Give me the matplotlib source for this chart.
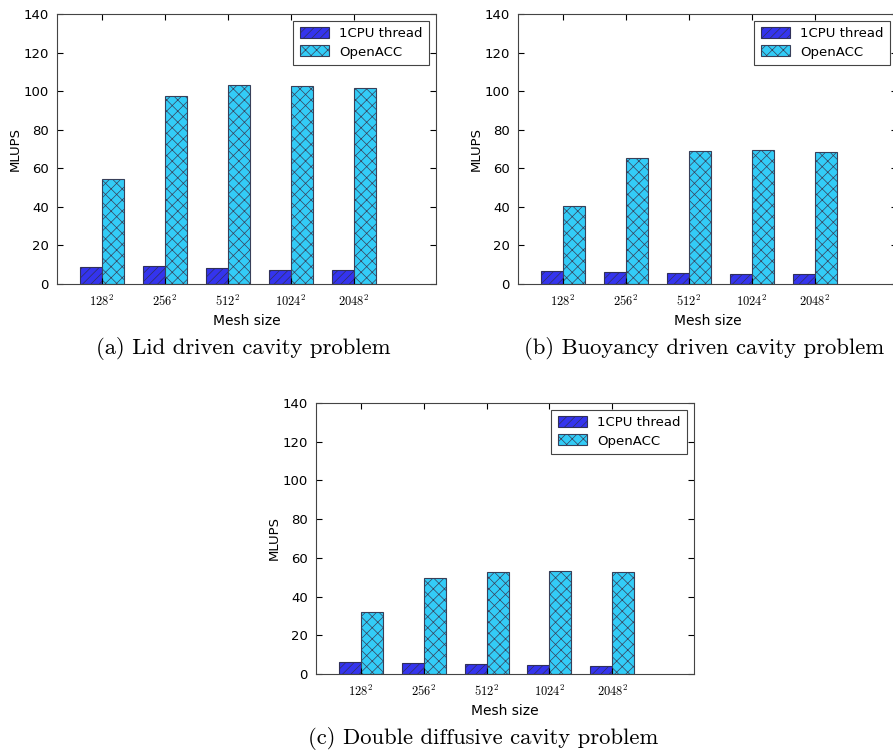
import matplotlib
matplotlib.use("Agg")
import matplotlib.pyplot as plt
import numpy as np

plt.rcParams['mathtext.fontset'] = 'cm'
plt.rcParams['hatch.linewidth'] = 0.5

mesh_labels = [r'$128^2$', r'$256^2$', r'$512^2$', r'$1024^2$', r'$2048^2$']
series_names = ['1CPU thread', 'OpenACC']

cpu_lid = [9.0, 9.1, 8.1, 7.4, 7.4]
acc_lid = [54.4, 97.7, 103.1, 102.7, 101.5]
cpu_buoy = [6.9, 6.4, 5.9, 5.4, 5.4]
acc_buoy = [40.2, 65.1, 68.9, 69.6, 68.5]
cpu_dd = [6.2, 5.7, 5.2, 4.5, 4.3]
acc_dd = [32.2, 49.8, 52.7, 53.4, 52.5]

captions = ['(a) Lid driven cavity problem',
            '(b) Buoyancy driven cavity problem',
            '(c) Double diffusive cavity problem']

W, H = 893, 755
fig = plt.figure(figsize=(W / 100, H / 100), dpi=100)

def px_axes(left, top, right, bottom):
    return fig.add_axes([left / W, 1 - bottom / H, (right - left) / W, (bottom - top) / H])

panels = [
    (px_axes(57, 14, 436, 284), cpu_lid, acc_lid, captions[0], (243, 348)),
    (px_axes(518, 14, 897, 284), cpu_buoy, acc_buoy, captions[1], (704, 348)),
    (px_axes(316, 403, 694, 674), cpu_dd, acc_dd, captions[2], (483, 738)),
]

width = 0.35
ind = np.arange(len(mesh_labels))
for ax, cpu, acc, cap, (cx, cy) in panels:
    ax.bar(ind, cpu, width, align='edge', color='#3434ee', edgecolor='#30305a',
           hatch='////', linewidth=0.8, label=series_names[0])
    ax.bar(ind + width, acc, width, align='edge', color='#33ccf7', edgecolor='#38405a',
           hatch='xxx', linewidth=0.8, label=series_names[1])
    ax.set_xlim(-0.365, 5.65)
    ax.set_ylim(0, 140)
    ax.set_yticks(np.arange(0, 141, 20))
    ax.set_xticks(ind + width)
    ax.set_xticklabels(mesh_labels, fontsize=9)
    ax.tick_params(axis='y', labelsize=9.5, direction='in', right=True, length=4, pad=6)
    ax.tick_params(axis='x', direction='in', top=True, length=4, pad=7)
    for s in ax.spines.values():
        s.set_color('#444444')
        s.set_linewidth(0.8)
    ax.set_ylabel('MLUPS', fontsize=9.5, labelpad=1)
    ax.set_xlabel('Mesh size', fontsize=10, labelpad=4)
    leg = ax.legend(loc='upper right', fontsize=9.5, fancybox=False, framealpha=1,
                    edgecolor='#444444', borderaxespad=0.5, handlelength=2.2,
                    handleheight=0.9, borderpad=0.5, labelspacing=0.4)
    leg.get_frame().set_linewidth(0.8)
    fig.text(cx / W, 1 - cy / H, cap, ha='center', va='center',
             fontsize=16.3, family='cmr10')

fig.savefig('out.png', dpi=100)
